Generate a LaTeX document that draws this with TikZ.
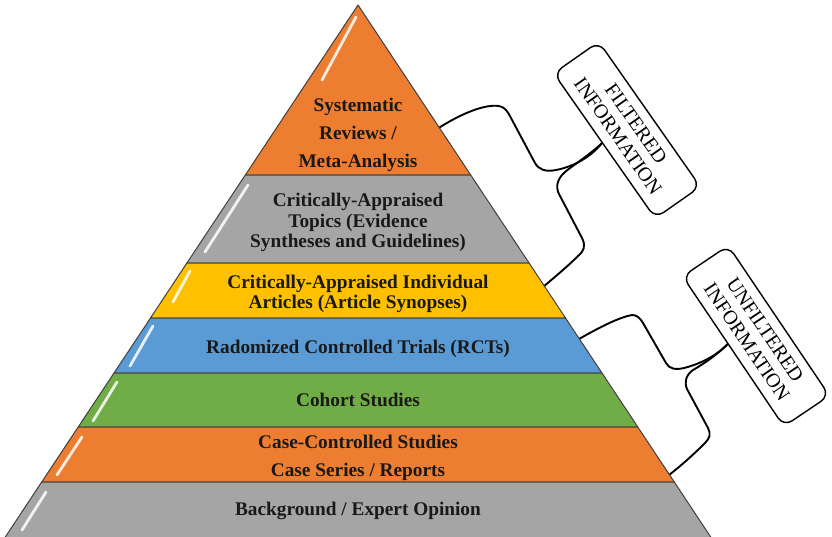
\documentclass[tikz,border=0pt]{standalone}
\usepackage{fontspec}
\setmainfont{Liberation Serif}
\usetikzlibrary{calc}
\definecolor{porange}{HTML}{ED7D31}
\definecolor{pgray}{HTML}{A5A5A5}
\definecolor{pyellow}{HTML}{FFC000}
\definecolor{pblue}{HTML}{5B9BD5}
\definecolor{pgreen}{HTML}{70AD47}
\definecolor{pedge}{HTML}{404040}
\begin{document}
\begin{tikzpicture}[x=1pt,y=-1pt,
  band/.style={draw=pedge, line width=1pt, line join=round},
  gloss/.style={white, opacity=0.85, line width=2.8pt, line cap=round},
  bandtext/.style={font=\bfseries\fontsize{19.3}{#1}\selectfont, align=center, text=black!90, inner sep=0pt},
  bandtext/.default=24,
  infobox/.style={draw=black, line width=1.4pt, rounded corners=10pt, minimum height=55pt, align=center, font=\fontsize{20}{22}\selectfont, inner sep=2pt},
  brace/.style={draw=black, line width=1.9pt, line join=round}]
\useasboundingbox (0,0) rectangle (832,536);
\clip (0,0) rectangle (832,536);

% information boxes
\node[infobox, rotate=-55, minimum width=177pt] (filt) at (627,130) {FILTERED\\INFORMATION};
\node[infobox, rotate=-56, minimum width=181pt] (unfilt) at (756,336) {UNFILTERED\\INFORMATION};

\coordinate (ftip) at ($(filt.south west)!0.48!(filt.south east)$);
\coordinate (utip) at ($(unfilt.south west)!0.45!(unfilt.south east)$);
\coordinate (fa) at (437,129);
\coordinate (fb) at (543,287);
\coordinate (ua) at (579,339);
\coordinate (ub) at (669,475);

% brackets
\draw[brace] (fa) .. controls (462,113) and (485,104) .. (499,106)
  .. controls (505,107) and (508,112) .. (511,118) -- (535,163)
  .. controls (539,170) and (546,172) .. (556,170)
  .. controls (572,167) and (590,158) .. (ftip);
\draw[brace] (ftip) .. controls (588,156) and (572,166) .. (565,172)
  .. controls (558,178) and (555,186) .. (559,194) -- (582,238)
  .. controls (586,246) and (584,251) .. (578,256)
  .. controls (568,266) and (556,276) .. (fb);
\draw[brace] (ua) .. controls (600,327) and (620,317) .. (632,315)
  .. controls (637,315) and (640,318) .. (643,323) -- (666,363)
  .. controls (669,369) and (676,370) .. (684,368)
  .. controls (700,364) and (716,356) .. (utip);
\draw[brace] (utip) .. controls (716,356) and (700,366) .. (693,370)
  .. controls (686,375) and (684,382) .. (687,389) -- (708,428)
  .. controls (711,434) and (710,438) .. (705,443)
  .. controls (695,453) and (682,465) .. (ub);

% pyramid bands
\filldraw[band, fill=porange] (358,5) -- (470.7,175) -- (245.3,175) -- cycle;
\filldraw[band, fill=pgray] (245.3,175) -- (470.7,175) -- (529.1,263) -- (186.9,263) -- cycle;
\filldraw[band, fill=pyellow] (186.9,263) -- (529.1,263) -- (565.5,318) -- (150.5,318) -- cycle;
\filldraw[band, fill=pblue] (150.5,318) -- (565.5,318) -- (602.0,373) -- (114.0,373) -- cycle;
\filldraw[band, fill=pgreen] (114.0,373) -- (602.0,373) -- (637.8,427) -- (78.2,427) -- cycle;
\filldraw[band, fill=porange] (78.2,427) -- (637.8,427) -- (674.3,482) -- (41.7,482) -- cycle;
\filldraw[band, fill=pgray] (41.7,482) -- (674.3,482) -- (716,545) -- (0,545) -- cycle;

% glossy highlights
\draw[gloss] (356,17) -- (322,80);
\draw[gloss] (248,185) -- (205,252);
\draw[gloss] (190,271) -- (173,302);
\draw[gloss] (153,326) -- (130,366);
\draw[gloss] (117,382) -- (93,421);
\draw[gloss] (82,437) -- (57,475);
\draw[gloss] (46,492) -- (22,530);

% band texts
\node[bandtext=28] (t1) at (358,135) {Systematic\\Reviews /\\Meta-Analysis};
\node[bandtext=20.5] (t2) at (358,222.5) {Critically-Appraised\\Topics (Evidence\\Syntheses and Guidelines)};
\node[bandtext=20] (t3) at (358,294) {Critically-Appraised Individual\\Articles (Article Synopses)};
\node[bandtext] (t4) at (358,349) {Radomized Controlled Trials (RCTs)};
\node[bandtext] (t5) at (358,400) {Cohort Studies};
\node[bandtext=27.5] (t6) at (358,457.8) {Case-Controlled Studies\\Case Series / Reports};
\node[bandtext] (t7) at (358,511) {Background / Expert Opinion};
\end{tikzpicture}
\end{document}
